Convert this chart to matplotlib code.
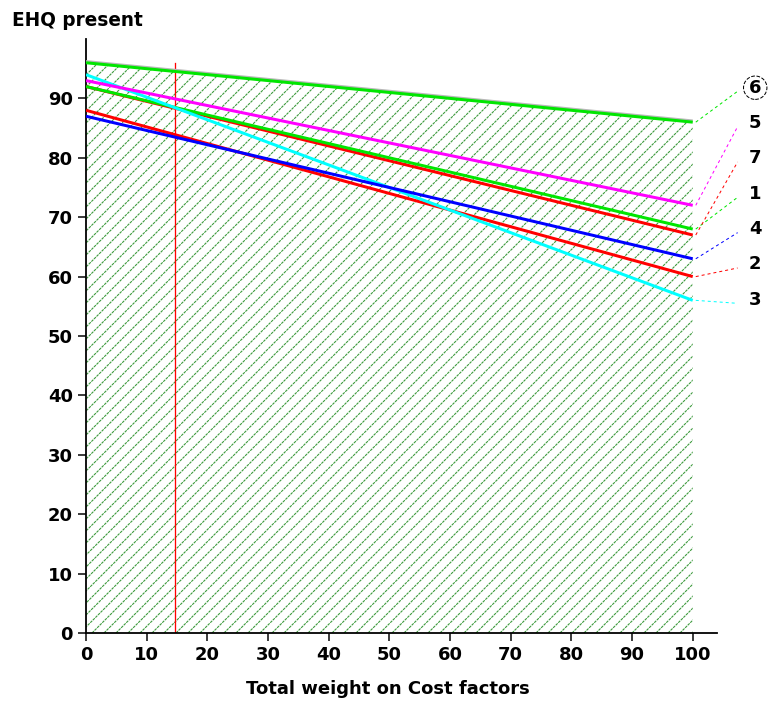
import matplotlib
matplotlib.use('Agg')
import matplotlib.pyplot as plt
import matplotlib.patheffects as pe
from matplotlib.collections import LineCollection
from matplotlib.transforms import IdentityTransform

# end points of each line at weight 0 and weight 100
LINE_IDS = ['6', '5', '7', '1', '4', '2', '3']
START_VALUES = [96, 93, 92, 92, 87, 88, 94]
END_VALUES = [86, 72, 67, 68, 63, 60, 56]
COLORS = ['#00e600', '#ff00ff', '#ff0000', '#00e600', '#0000ff', '#ff0000', '#00ffff']
X_ENDS = [0, 100]
CURRENT_WEIGHT = 14.7
X_TICKS = [0, 10, 20, 30, 40, 50, 60, 70, 80, 90, 100]
Y_TICKS = [0, 10, 20, 30, 40, 50, 60, 70, 80, 90]

FONT = dict(family='DejaVu Sans', weight='bold')
HATCH_STEP = 12  # pixels between hatch lines


def add_hatch(ax, patch):
    # 45 degree hatch in pixel space, clipped to the filled region
    (x0, y0), (x1, y1) = ax.transData.transform([(0, 0), (100, 100)])
    h = y1 - y0
    segs = []
    x = x0 - h
    while x < x1:
        segs.append([(x, y0), (x + h, y0 + h)])
        x += HATCH_STEP
    lc = LineCollection(segs, colors='#3d9a3d', linewidths=1.1, linestyles=(0, (2.5, 0.8)),
                        transform=IdentityTransform(), zorder=1)
    ax.add_collection(lc, autolim=False)
    lc.set_clip_path(patch)


def plot_ehq():
    fig = plt.figure(figsize=(768 / 72, 703 / 72), dpi=72)
    ax = fig.add_axes([86 / 768, 70 / 703, 631 / 768, 594 / 703])
    ax.set_xlim(0, 104)
    ax.set_ylim(0, 100)

    # region below the best (top) line
    region = ax.fill([X_ENDS[0], X_ENDS[0], X_ENDS[1], X_ENDS[1]],
                     [0, START_VALUES[0], END_VALUES[0], 0],
                     facecolor='none', edgecolor='none', linewidth=0, zorder=1)[0]
    add_hatch(ax, region)

    ax.plot([CURRENT_WEIGHT, CURRENT_WEIGHT], [0, 96], color='#ff0000', linewidth=1.3, zorder=2)

    order = [5, 2, 3, 6, 4, 1, 0]
    for i in order:
        kw = {}
        if LINE_IDS[i] == '6':
            kw['path_effects'] = [pe.SimpleLineShadow(offset=(0, 1.2), shadow_color='#b8b8b8', alpha=1),
                                  pe.Normal()]
        ax.plot(X_ENDS, [START_VALUES[i], END_VALUES[i]], color=COLORS[i],
                linewidth=3, solid_capstyle='butt', zorder=3, **kw)

    # labels on the right, spaced evenly from the lowest end value
    for rank, i in enumerate(range(len(LINE_IDS) - 1, -1, -1)):
        ly = 56.1 + rank * 5.95
        ax.plot([100.5, 107.4], [END_VALUES[i], ly - 0.6], color=COLORS[i], linewidth=1,
                linestyle=(0, (3, 3)), clip_on=False, zorder=3)
        bbox = None
        if LINE_IDS[i] == '6':
            bbox = dict(boxstyle='circle,pad=0.15', facecolor='none', edgecolor='black',
                        linestyle='--', linewidth=1)
        ax.text(110.3, ly, LINE_IDS[i], ha='center', va='center', fontsize=18,
                clip_on=False, bbox=bbox, **FONT)

    for side in ['top', 'right']:
        ax.spines[side].set_visible(False)
    for side in ['left', 'bottom']:
        ax.spines[side].set_linewidth(1.8)

    ax.set_xticks(X_TICKS)
    ax.set_yticks(Y_TICKS)
    ax.tick_params(direction='out', length=8, width=1.5, pad=5)
    for lab in ax.get_xticklabels() + ax.get_yticklabels():
        lab.set_fontsize(18)
        lab.set_fontweight('bold')

    ax.set_xlabel('Total weight on Cost factors', fontsize=18, **FONT)
    ax.xaxis.label.set_verticalalignment('center')
    ax.xaxis.set_label_coords((388 - 86) / 631, -(689 - 633) / 594)
    fig.text(12 / 768, 1 - 20 / 703, 'EHQ present', ha='left', va='center', fontsize=18.5, **FONT)

    fig.savefig('out.png', dpi=72)
    plt.close(fig)

if __name__ == "__main__":
    plot_ehq()
